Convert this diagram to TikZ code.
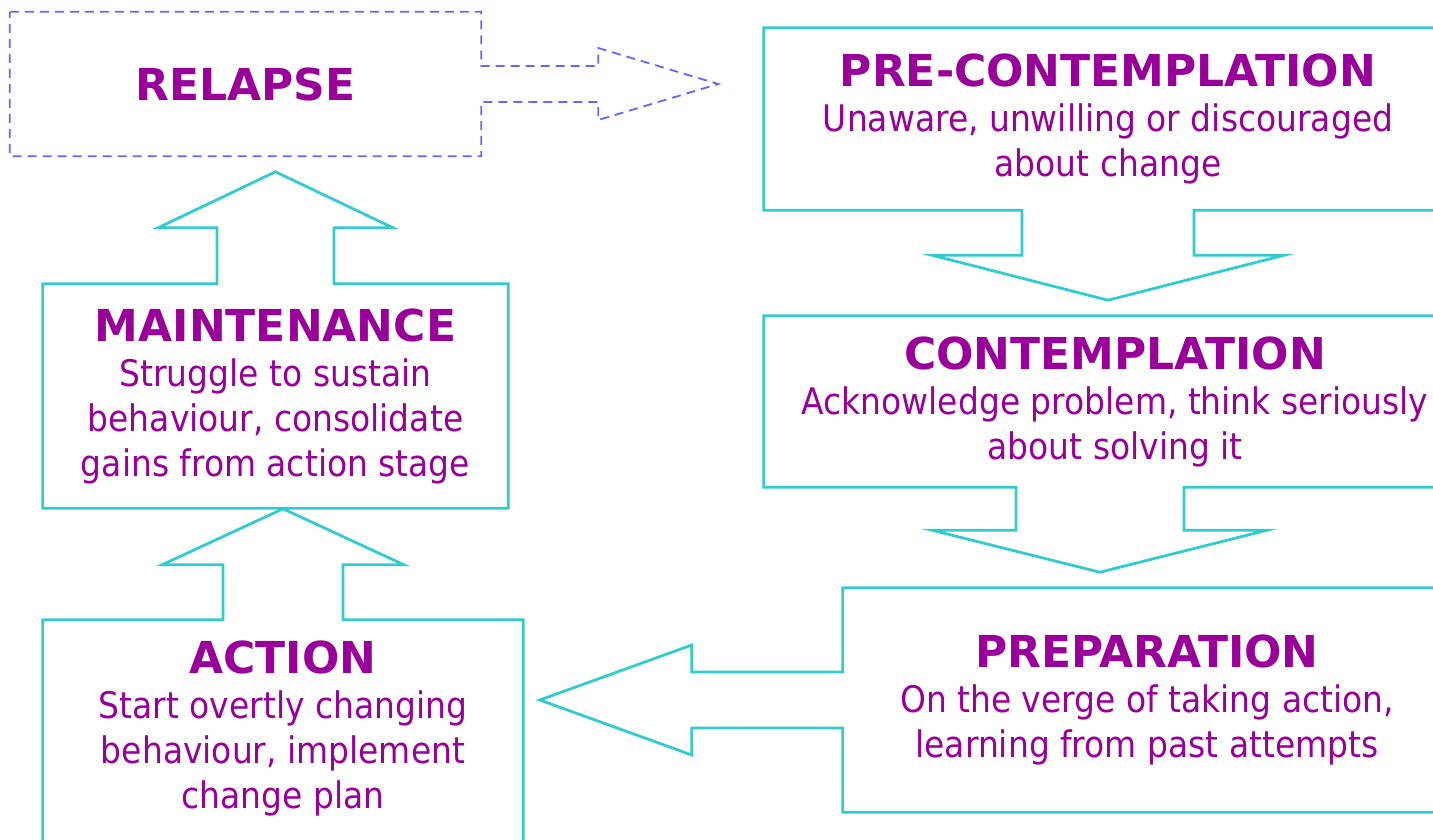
\documentclass[tikz,border=0pt]{standalone}
\usepackage{fontspec}
\setmainfont{DejaVu Sans}[FakeStretch=0.9]
\newfontfamily\titlefont{DejaVu Sans}
\usetikzlibrary{calc}

\definecolor{stagepurple}{HTML}{990099}
\definecolor{stagecyan}{HTML}{33CCCC}
\definecolor{relapseblue}{HTML}{6666FF}

\tikzset{
  stagebox/.style={draw=none, text=stagepurple, align=center, inner sep=0pt,
    font=\fontsize{36.6}{45}\selectfont},
  stageline/.style={draw=stagecyan, line width=2.8pt, line join=miter},
  relapseline/.style={draw=relapseblue, line width=1.8pt, dash pattern=on 9pt off 6pt},
}
\newcommand{\stagetitle}[1]{{\titlefont\fontsize{44}{45}\selectfont\bfseries #1}}

\begin{document}
\begin{tikzpicture}[x=1pt, y=-1pt]
\useasboundingbox (0,0) rectangle (1433,840);
\clip (0,0) rectangle (1433,840);

% stages
\node[stagebox, minimum width=471pt, minimum height=144pt] (relapse) at (245.5,84) {\stagetitle{RELAPSE}};
\node[stagebox, minimum width=688pt, minimum height=182pt] (pre) at (1108,119)
  {\stagetitle{PRE-CONTEMPLATION}\\Unaware, unwilling or discouraged\\about change};
\node[stagebox, minimum width=702pt, minimum height=171pt] (con) at (1115,401.5)
  {\stagetitle{CONTEMPLATION}\\Acknowledge problem, think seriously\\about solving it};
\node[stagebox, minimum width=608pt, minimum height=224pt] (prep) at (1147,700)
  {\stagetitle{PREPARATION}\\On the verge of taking action,\\learning from past attempts};
\node[stagebox, minimum width=480pt, minimum height=216pt] (act) at (283,728)
  {\stagetitle{ACTION}\\Start overtly changing\\behaviour, implement\\change plan};
\node[stagebox, minimum width=465pt, minimum height=224pt] (maint) at (275.5,396)
  {\stagetitle{MAINTENANCE}\\Struggle to sustain\\behaviour, consolidate\\gains from action stage};

% outlines with block arrows
\draw[relapseline] (relapse.north west) -- (relapse.north east) -- ($(relapse.east)+(0,-18)$) -- ++(117,0) -- ++(0,-18)
  -- ($(relapse.east)+(237,0)$) -- ($(relapse.east)+(117,36)$) -- ++(0,-18) -- ($(relapse.east)+(0,18)$)
  -- (relapse.south east) -- (relapse.south west) -- cycle;
\draw[stageline] (pre.south west) -- (pre.north west) -- (pre.north east) -- (pre.south east) -- ($(pre.south)+(86,0)$)
  -- ++(0,45) -- ++(90,0) -- ($(pre.south)+(0,90)$) -- ($(pre.south)+(-176,45)$) -- ++(90,0) -- ++(0,-45) -- cycle;
\draw[stageline] (con.south west) -- (con.north west) -- (con.north east) -- (con.south east) -- ($(con.south)+(69,0)$)
  -- ++(0,43) -- ++(83,0) -- ($(con.south)+(-15,85)$) -- ($(con.south)+(-183,43)$) -- ++(84,0) -- ++(0,-43) -- cycle;
\draw[stageline] (prep.north west) -- (prep.north east) -- (prep.south east) -- (prep.south west) -- ($(prep.west)+(0,28)$)
  -- ++(-151,0) -- ++(0,27) -- ($(prep.west)+(-303,0)$) -- ($(prep.west)+(-151,-55)$) -- ++(0,27) -- ($(prep.west)+(0,-28)$) -- cycle;
\draw[stageline] ($(act.south west)+(0,20)$) -- (act.north west) -- ($(act.north)+(-60,0)$) -- ++(0,-55) -- ++(-61,0)
  -- ($(act.north)+(0,-111)$) -- ($(act.north)+(121,-55)$) -- ++(-61,0) -- ++(0,55) -- (act.north east) -- ($(act.south east)+(0,20)$);
\draw[stageline] (maint.north west) -- ($(maint.north)+(-58.5,0)$) -- ++(0,-56) -- ++(-59,0) -- ($(maint.north)+(0,-112)$)
  -- ($(maint.north)+(117.5,-56)$) -- ++(-59,0) -- ++(0,56) -- (maint.north east) -- (maint.south east) -- (maint.south west) -- cycle;
\end{tikzpicture}
\end{document}
